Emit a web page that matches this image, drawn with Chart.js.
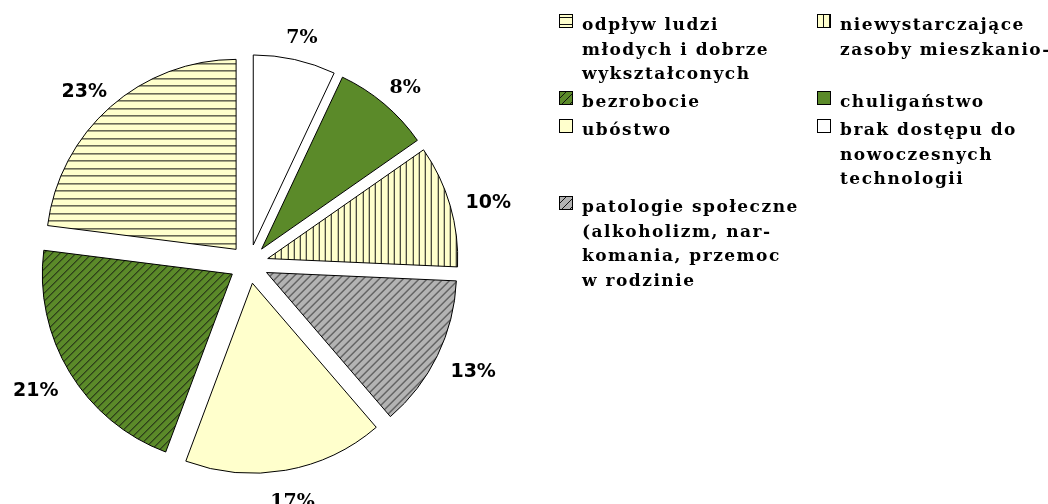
<!DOCTYPE html>
<html><head><meta charset="utf-8">
<script src="https://cdn.jsdelivr.net/npm/chart.js@4.4.1/dist/chart.umd.min.js"></script>
<style>
html,body{margin:0;padding:0;background:#fff;}
#wrap{position:relative;width:1048px;height:504px;overflow:hidden;background:#fff;}
#c{position:absolute;left:0;top:0;}
#legend{position:absolute;left:559px;top:12px;display:grid;grid-template-columns:258px 230px;row-gap:3.5px;
  font-family:"DejaVu Serif",serif;font-weight:bold;font-size:17px;line-height:24.5px;letter-spacing:1.5px;color:#000;}
.item{position:relative;padding-left:23px;white-space:pre;}
.item canvas{position:absolute;left:0;top:2px;}
</style></head><body>
<div id="wrap"><canvas id="c" width="1048" height="504"></canvas><div id="legend"></div></div>
<script>
// ---- data (pie order, clockwise from 12 o'clock) ----
const categories = [
  "brak dostępu do\nnowoczesnych\ntechnologii",
  "chuligaństwo",
  "niewystarczające\nzasoby mieszkanio-",
  "patologie społeczne\n(alkoholizm, nar-\nkomania, przemoc\nw rodzinie",
  "ubóstwo",
  "bezrobocie",
  "odpływ ludzi\nmłodych i dobrze\nwykształconych"
];
const values = [7.0, 8.3, 10.4, 13.0, 17.0, 21.3, 23.0];
// legend order (indices into categories), laid out row by row in two columns
const legendOrder = [6, 2, 5, 1, 4, 0, 3];

// ---- styles ----
const YEL = '#FFFFCC', GRN = '#5b8a29', GRY = '#b3b3b3';
function makePattern(bg, kind) {
  const c = document.createElement('canvas');
  let w = 8, h = 8;
  if (kind === 'h') { w = 8; h = 15; }
  if (kind === 'v') { w = 25; h = 8; }
  c.width = w; c.height = h;
  const x = c.getContext('2d');
  x.fillStyle = bg; x.fillRect(0, 0, w, h);
  x.fillStyle = '#111';
  if (kind === 'h') { x.fillRect(0, 3, w, 1); x.fillRect(0, 10, w, 1); }
  else if (kind === 'v') { [0, 6, 12, 19].forEach(p => x.fillRect(p, 0, 1, h)); }
  else if (kind === 'd') { for (let k = 0; k < 8; k++) x.fillRect(k, 7 - k, 1, 1); }
  return x.createPattern(c, 'repeat');
}
const sliceLook = [
  { fill: '#ffffff', serif: true },
  { fill: GRN, serif: true },
  { fill: makePattern(YEL, 'v'), serif: false },
  { fill: makePattern(GRY, 'd'), serif: false },
  { fill: YEL, serif: true },
  { fill: makePattern(GRN, 'd'), serif: false },
  { fill: makePattern(YEL, 'h'), serif: false }
];
const RADIUS = 190, EXPLODE = 19.5, LABEL_GAP = 17, LABEL_DROP = 3;

// keep exploded slices at equal radius (Chart.js enlarges small offset arcs)
const fixExplode = {
  id: 'fixExplode',
  afterDatasetUpdate(chart, args) {
    args.meta.data.forEach(arc => {
      const off = (arc.options.offset || 0) / 4;
      const ro = off * (1 - Math.sin(Math.min(Math.PI, arc.circumference)));
      const R = arc.outerRadius;
      arc.$R = R; arc.$mid = (arc.startAngle + arc.endAngle) / 2; arc.$off = off;
      const a = ro / (2 * Math.PI * R);
      arc.outerRadius = R - ro;
      arc.startAngle -= a; arc.endAngle += a;
    });
  }
};
const pctLabels = {
  id: 'pctLabels',
  afterDatasetsDraw(chart) {
    const meta = chart.getDatasetMeta(0);
    const ctx = chart.ctx;
    const total = values.reduce((a, b) => a + b, 0);
    meta.data.forEach((arc, i) => {
      const txt = Math.round(values[i] / total * 100) + '%';
      const fs = 19;
      ctx.save();
      ctx.font = 'bold ' + fs + 'px ' + (sliceLook[i].serif ? '"DejaVu Serif", serif' : '"DejaVu Sans", sans-serif');
      const w = ctx.measureText(txt).width, h = 20;
      const dx = Math.cos(arc.$mid), dy = Math.sin(arc.$mid);
      const d = arc.$R + arc.$off + LABEL_GAP;
      const cx = arc.x + dx * d + dx * w / 2, cy = arc.y + dy * d + dy * h / 2 + LABEL_DROP;
      ctx.textAlign = 'center'; ctx.textBaseline = 'alphabetic';
      ctx.fillStyle = '#000';
      ctx.fillText(txt, cx, cy + 0.365 * fs);
      ctx.restore();
    });
  }
};

new Chart(document.getElementById('c'), {
  type: 'pie',
  data: {
    labels: categories,
    datasets: [{
      data: values,
      backgroundColor: sliceLook.map(s => s.fill),
      borderColor: '#000',
      borderWidth: 1,
      offset: EXPLODE * 4,
      hoverOffset: EXPLODE * 4,
      clip: false
    }]
  },
  options: {
    responsive: false,
    animation: false,
    events: [],
    radius: RADIUS,
    layout: { padding: { left: 0, right: 550, top: 24, bottom: 0 } },
    plugins: { legend: { display: false }, tooltip: { enabled: false } }
  },
  plugins: [fixExplode, pctLabels]
});

// ---- HTML legend ----
const lg = document.getElementById('legend');
legendOrder.forEach(i => {
  const it = document.createElement('div');
  it.className = 'item';
  const sw = document.createElement('canvas');
  sw.width = 14; sw.height = 14;
  const sx = sw.getContext('2d');
  sx.fillStyle = sliceLook[i].fill; sx.fillRect(0, 0, 14, 14);
  sx.strokeStyle = '#000'; sx.lineWidth = 1; sx.strokeRect(0.5, 0.5, 13, 13);
  it.appendChild(sw);
  it.appendChild(document.createTextNode(categories[i]));
  lg.appendChild(it);
});
</script>
</body></html>
